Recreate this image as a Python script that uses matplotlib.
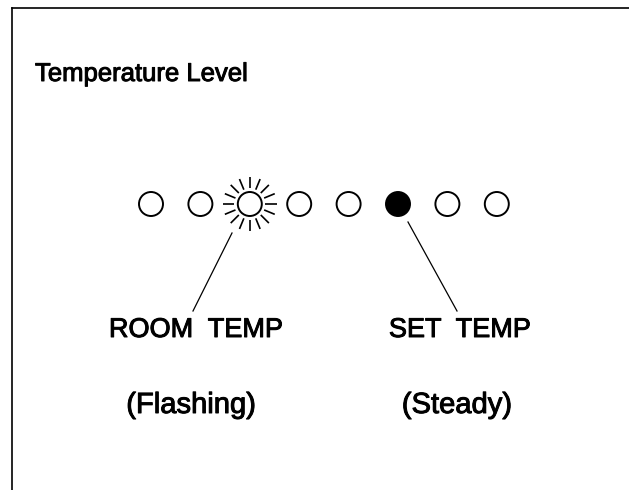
import numpy
import matplotlib
matplotlib.use("Agg")
import matplotlib.pyplot as plt
import matplotlib.patheffects as pe
from matplotlib.patches import Circle


# LED states along the temperature level bar: 0 = off, 1 = steady, 2 = flashing
LED_STATE = [0, 0, 2, 0, 0, 1, 0, 0]
TITLE = "Temperature Level"
LABELS = ["ROOM  TEMP", "SET  TEMP"]
SUBLABELS = ["(Flashing)", "(Steady)"]
LABEL_LED = [2, 5]

W, H = 629, 490
FONT = ["Liberation Sans", "DejaVu Sans"]
# scanned print looks heavier than the regular face
HEAVY = [pe.withStroke(linewidth=0.7, foreground="black")]


def put_text(ax, x, y, s, size, ha="center"):
    ax.text(x, y, s, fontsize=size, family=FONT, ha=ha, va="baseline",
            color="black", path_effects=HEAVY)


def draw_panel():
    fig = plt.figure(figsize=(W / 100, H / 100), dpi=100)
    ax = fig.add_axes([0, 0, 1, 1])
    ax.set_xlim(0, W)
    ax.set_ylim(H, 0)
    ax.axis("off")

    # frame (only top and left edges are visible in the scan)
    ax.plot([12, W], [8, 8], color="black", lw=1.2)
    ax.plot([12, 12], [8, H], color="black", lw=1.2)

    put_text(ax, 35, 81, TITLE, 18.5, ha="left")

    x0, dx, y = 151, 49.4, 204
    r = 12
    for i, state in enumerate(LED_STATE):
        cx = x0 + i * dx
        face = "black" if state == 1 else "white"
        ax.add_patch(Circle((cx, y), r, facecolor=face, edgecolor="black",
                            lw=1.4, zorder=3))
        if state == 2:
            # rays around the flashing lamp
            for a in numpy.arange(0, 360, 22.5):
                t = numpy.deg2rad(a)
                ax.plot([cx + 15.5 * numpy.cos(t), cx + 27 * numpy.cos(t)],
                        [y + 15.5 * numpy.sin(t), y + 27 * numpy.sin(t)],
                        color="black", lw=1.2, solid_capstyle="butt")

    # leader lines from lamps down to labels
    text_x = [196, 460]
    starts = [(232, 233), (408, 222)]
    ends = [(193, 311), (457, 311)]
    for k, led in enumerate(LABEL_LED):
        ax.plot([starts[k][0], ends[k][0]], [starts[k][1], ends[k][1]],
                color="black", lw=0.9)
        put_text(ax, text_x[k], 337, LABELS[k], 19.5)
        put_text(ax, [191, 457][k], 413, SUBLABELS[k], 21)

    fig.savefig("out.png", dpi=100)


if __name__ == '__main__':
    draw_panel()
